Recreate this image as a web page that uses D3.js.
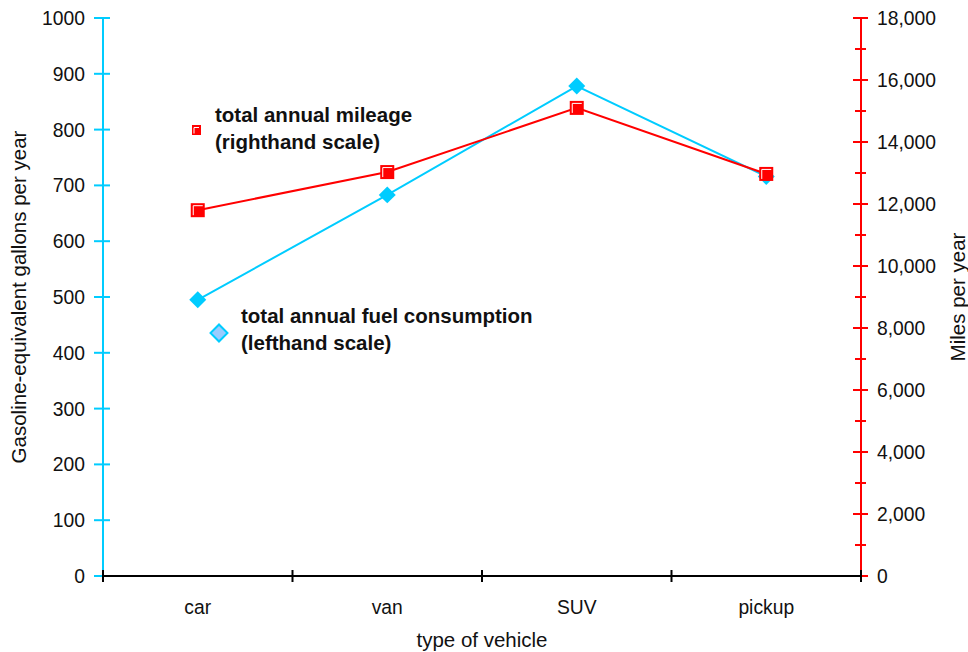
<!DOCTYPE html>
<html><head><meta charset="utf-8">
<script src="https://cdn.jsdelivr.net/npm/d3@7"></script>
<style>body{margin:0;background:#fff}text{font-family:"Liberation Sans",Arial,sans-serif}</style>
</head><body>
<svg id="c" width="968" height="652"></svg>
<script>
const categories = ["car","van","SUV","pickup"];
const fuelGallons = [495, 683, 878, 716];
const milesPerYear = [11800, 13030, 15100, 12970];
const leftTicks = [0,100,200,300,400,500,600,700,800,900,1000];
const rightTicks = [0,2000,4000,6000,8000,10000,12000,14000,16000,18000];
const rightMinorTicks = [1000,3000,5000,7000,9000,11000,13000,15000,17000];

const cyan = "#00CCFF", red = "#FF0000";
const svg = d3.select("#c");
const L = 103, R = 861, T = 18, B = 576;
const FT = 19.3, FA = 20.5, FL = 20.5;
const x = d3.scaleBand().domain(categories).range([L, R]);
const yL = d3.scaleLinear().domain([0,1000]).range([B, T]);
const yR = d3.scaleLinear().domain([0,18000]).range([B, T]);

// left axis
const gl = svg.append("g");
gl.append("line").attr("x1",L).attr("x2",L).attr("y1",T).attr("y2",B).attr("stroke",cyan).attr("stroke-width",2);
gl.selectAll("line.t").data(leftTicks).join("line").attr("class","t")
  .attr("x1",L-9).attr("x2",L+7).attr("y1",d=>yL(d)).attr("y2",d=>yL(d)).attr("stroke",cyan).attr("stroke-width",2);
gl.selectAll("text").data(leftTicks).join("text")
  .attr("x",L-18).attr("y",d=>yL(d)).attr("dy","0.36em").attr("text-anchor","end")
  .attr("font-size",FT).attr("fill","#111").text(d=>d);

// right axis
const gr = svg.append("g");
gr.append("line").attr("x1",R).attr("x2",R).attr("y1",T).attr("y2",B).attr("stroke",red).attr("stroke-width",2);
gr.selectAll("line.t").data(rightTicks).join("line").attr("class","t")
  .attr("x1",R-8).attr("x2",R+7).attr("y1",d=>yR(d)).attr("y2",d=>yR(d)).attr("stroke",red).attr("stroke-width",2);
gr.selectAll("line.m").data(rightMinorTicks).join("line").attr("class","m")
  .attr("x1",R-6).attr("x2",R+5).attr("y1",d=>yR(d)).attr("y2",d=>yR(d)).attr("stroke",red).attr("stroke-width",2);
gr.selectAll("text").data(rightTicks).join("text")
  .attr("x",R+16).attr("y",d=>yR(d)).attr("dy","0.36em").attr("text-anchor","start")
  .attr("font-size",FT).attr("fill","#111").text(d=>d3.format(",")(d));

// x axis
const gx = svg.append("g");
gx.append("line").attr("x1",L).attr("x2",R).attr("y1",B).attr("y2",B).attr("stroke","#000").attr("stroke-width",2);
const bounds = categories.map(c=>x(c)).concat([R]);
gx.selectAll("line.t").data(bounds).join("line").attr("class","t")
  .attr("x1",d=>d).attr("x2",d=>d).attr("y1",B-6).attr("y2",B+6).attr("stroke","#000").attr("stroke-width",2);
gx.selectAll("text").data(categories).join("text")
  .attr("x",d=>x(d)+x.bandwidth()/2).attr("y",607).attr("dy","0.36em").attr("text-anchor","middle")
  .attr("font-size",FT).attr("fill","#111").text(d=>d);

// titles
svg.append("text").attr("x",482).attr("y",640).attr("dy","0.36em").attr("text-anchor","middle").attr("font-size",FA).attr("fill","#111").text("type of vehicle");
svg.append("text").attr("transform","translate(19,297) rotate(-90)").attr("dy","0.36em").attr("text-anchor","middle").attr("font-size",FA).attr("fill","#111").text("Gasoline-equivalent gallons per year");
svg.append("text").attr("transform","translate(958,297) rotate(-90)").attr("dy","0.36em").attr("text-anchor","middle").attr("font-size",FA).attr("fill","#111").text("Miles per year");

const cx = c => x(c)+x.bandwidth()/2;

// fuel line (cyan)
svg.append("path").datum(categories.map((c,i)=>[cx(c), yL(fuelGallons[i])]))
  .attr("d", d3.line()).attr("fill","none").attr("stroke",cyan).attr("stroke-width",2);
// mileage line (red)
svg.append("path").datum(categories.map((c,i)=>[cx(c), yR(milesPerYear[i])]))
  .attr("d", d3.line()).attr("fill","none").attr("stroke",red).attr("stroke-width",2);

// diamonds
svg.selectAll("rect.dm").data(categories).join("rect").attr("class","dm")
  .attr("x",-6).attr("y",-6).attr("width",12).attr("height",12).attr("fill",cyan)
  .attr("transform",(c,i)=>`translate(${cx(c)},${yL(fuelGallons[i])}) rotate(45)`);

// squares
const sq = svg.selectAll("g.sq").data(categories).join("g").attr("class","sq")
  .attr("transform",(c,i)=>`translate(${cx(c)},${yR(milesPerYear[i])})`);
sq.append("rect").attr("x",-7).attr("y",-7).attr("width",14).attr("height",14).attr("fill",red);
sq.append("path").attr("d","M-4.5,5 V-4.5 H5").attr("fill","none").attr("stroke","#fff").attr("stroke-width",1);

// legend
const lg1 = svg.append("g").attr("transform","translate(196,130)");
lg1.append("rect").attr("x",-4).attr("y",-5).attr("width",9).attr("height",10).attr("fill",red);
lg1.append("path").attr("d","M-2,3.5 V-2.5 H3").attr("fill","none").attr("stroke","#fff").attr("stroke-width",1);
svg.append("text").attr("x",215).attr("y",122).attr("font-size",FL).attr("font-weight","bold").attr("fill","#111").text("total annual mileage");
svg.append("text").attr("x",215).attr("y",149).attr("font-size",FL).attr("font-weight","bold").attr("fill","#111").text("(righthand scale)");

svg.append("rect").attr("x",-6).attr("y",-6).attr("width",12).attr("height",12)
  .attr("fill","#99CCFF").attr("stroke",cyan).attr("stroke-width",2)
  .attr("transform","translate(219,333) rotate(45)");
svg.append("text").attr("x",241).attr("y",323).attr("font-size",FL).attr("font-weight","bold").attr("fill","#111").text("total annual fuel consumption");
svg.append("text").attr("x",241).attr("y",350).attr("font-size",FL).attr("font-weight","bold").attr("fill","#111").text("(lefthand scale)");
</script>
</body></html>
